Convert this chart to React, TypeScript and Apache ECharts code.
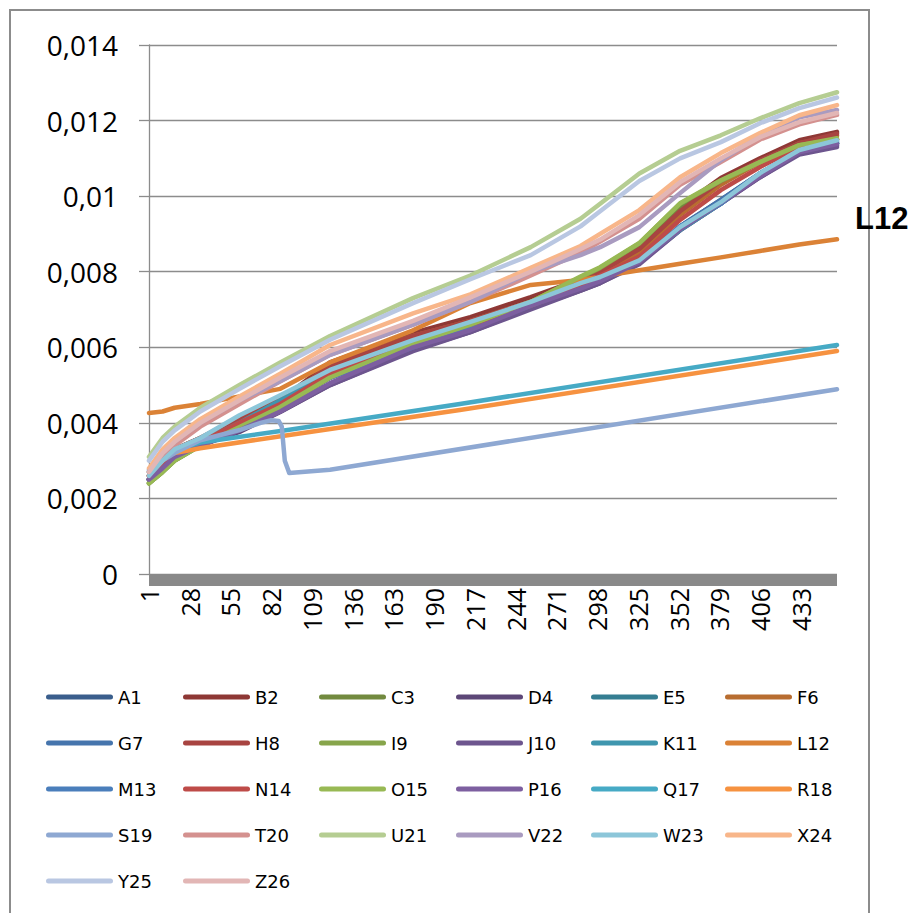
import React, { useEffect, useRef } from "react";
import * as echarts from "echarts";

// ---------- data ----------
const CATEGORIES: string[] = Array.from({ length: 457 }, (_, i) => String(i + 1));
const SAMPLE_CATS = [1, 10, 18, 35, 61, 88, 121, 176, 214, 254, 287, 300, 326, 353, 380, 406, 432, 457];

const A1 = [0.0025, 0.0029, 0.0032, 0.0035, 0.0039, 0.0044, 0.0052, 0.006, 0.0065, 0.0071, 0.0076, 0.0078, 0.0083, 0.0092, 0.0099, 0.0106, 0.0112, 0.0114];
const B2 = [0.0026, 0.003, 0.0033, 0.0036, 0.00415, 0.0046, 0.0056, 0.00638, 0.0068, 0.00733, 0.0078, 0.00804, 0.00862, 0.00971, 0.01048, 0.011, 0.01148, 0.0117];
const C3 = [0.0024, 0.0027, 0.003, 0.0034, 0.0039, 0.0044, 0.0052, 0.0061, 0.0066, 0.0072, 0.0078, 0.0081, 0.0087, 0.0097, 0.0104, 0.0109, 0.0113, 0.0115];
const D4 = [0.0025, 0.0028, 0.0031, 0.0034, 0.00376, 0.00429, 0.005, 0.00593, 0.0064, 0.00704, 0.0075, 0.0077, 0.00823, 0.0091, 0.00981, 0.0105, 0.01114, 0.01135];
const E5 = [0.0025, 0.0029, 0.0032, 0.0035, 0.004, 0.0045, 0.0053, 0.0061, 0.0066, 0.0071, 0.0076, 0.0078, 0.0083, 0.0092, 0.0098, 0.0106, 0.0112, 0.0114];
const F6 = [0.0026, 0.003, 0.0033, 0.0036, 0.0041, 0.0046, 0.0055, 0.0063, 0.0067, 0.0072, 0.0077, 0.008, 0.0085, 0.0095, 0.0103, 0.0109, 0.0114, 0.0116];
const G7 = [0.0025, 0.0029, 0.0032, 0.0035, 0.0039, 0.0044, 0.0052, 0.006, 0.0065, 0.0071, 0.0076, 0.0078, 0.0083, 0.0092, 0.0099, 0.0106, 0.0112, 0.01145];
const H8 = [0.0026, 0.003, 0.0033, 0.0036, 0.0041, 0.0046, 0.0055, 0.0063, 0.0067, 0.0072, 0.0077, 0.008, 0.0086, 0.0096, 0.0104, 0.01095, 0.0114, 0.01165];
const I9 = [0.0024, 0.0027, 0.003, 0.0034, 0.0039, 0.0044, 0.0052, 0.0061, 0.0066, 0.0072, 0.00785, 0.0081, 0.00875, 0.0098, 0.0104, 0.0109, 0.01135, 0.0115];
const J10 = [0.0025, 0.0028, 0.0031, 0.0034, 0.0038, 0.0043, 0.005, 0.0059, 0.0064, 0.007, 0.0075, 0.0077, 0.0082, 0.0091, 0.0098, 0.0105, 0.0111, 0.0113];
const K11 = [0.0025, 0.0029, 0.0032, 0.0035, 0.004, 0.0046, 0.0053, 0.0061, 0.0066, 0.0071, 0.0076, 0.0078, 0.0083, 0.0091, 0.0098, 0.0106, 0.0112, 0.0114];
const L12 = [0.00426, 0.0043, 0.0044, 0.0045, 0.0047, 0.0049, 0.0056, 0.00645, 0.00717, 0.00765, 0.00778, 0.00787, 0.00804, 0.00821, 0.00838, 0.00855, 0.00872, 0.00886];
const M13 = [0.0025, 0.0029, 0.0032, 0.0035, 0.0039, 0.0045, 0.0052, 0.006, 0.0065, 0.0071, 0.0076, 0.0078, 0.0083, 0.0092, 0.0098, 0.0106, 0.0112, 0.0114];
const N14 = [0.0025, 0.0029, 0.0032, 0.0035, 0.004, 0.0045, 0.0053, 0.0062, 0.0066, 0.0071, 0.0076, 0.0079, 0.0084, 0.00937, 0.01016, 0.01077, 0.0113, 0.0115];
const O15 = [0.0024, 0.0027, 0.003, 0.0034, 0.00389, 0.00442, 0.0052, 0.0061, 0.0066, 0.0072, 0.00787, 0.00812, 0.00876, 0.00981, 0.01042, 0.0109, 0.01135, 0.01153];
const P16 = [0.0025, 0.0028, 0.0031, 0.0034, 0.0038, 0.0043, 0.00505, 0.006, 0.00645, 0.0071, 0.00755, 0.00775, 0.00826, 0.00912, 0.00983, 0.01052, 0.01116, 0.01138];

const Q17_CATS = [1, 10, 20, 35, 94, 207, 457];
const Q17 = [0.0027, 0.0031, 0.0033, 0.00348, 0.00382, 0.0045, 0.00606];
const R18_CATS = [1, 10, 18, 35, 94, 207, 457];
const R18 = [0.0027, 0.0031, 0.0032, 0.00333, 0.00368, 0.00434, 0.0059];
const S19_CATS = [1, 10, 18, 35, 61, 75, 82, 87, 89, 91, 94, 121, 457];
const S19 = [0.00275, 0.003, 0.0032, 0.00354, 0.00381, 0.004, 0.00407, 0.00405, 0.0039, 0.003, 0.00267, 0.00276, 0.00489];

const T20 = [0.0026, 0.0031, 0.0034, 0.0039, 0.0045, 0.0051, 0.0058, 0.0066, 0.0072, 0.0079, 0.0085, 0.0088, 0.0094, 0.0103, 0.0109, 0.0115, 0.0119, 0.01215];
const U21 = [0.0031, 0.0036, 0.0039, 0.0044, 0.005, 0.0056, 0.0063, 0.0073, 0.0079, 0.00865, 0.0094, 0.0098, 0.0106, 0.0112, 0.01161, 0.01206, 0.01246, 0.01275];
const V22 = [0.0027, 0.0032, 0.0035, 0.004, 0.0046, 0.0051, 0.0058, 0.0066, 0.0072, 0.008, 0.00844, 0.00865, 0.00918, 0.01008, 0.01095, 0.01161, 0.01209, 0.01228];
const W23 = [0.0026, 0.003, 0.0033, 0.0036, 0.0042, 0.00473, 0.0054, 0.00619, 0.00667, 0.0072, 0.0077, 0.00786, 0.0083, 0.00918, 0.00984, 0.01061, 0.01122, 0.01148];
const X24 = [0.0028, 0.0033, 0.0036, 0.0041, 0.0047, 0.0053, 0.00606, 0.0069, 0.0074, 0.0081, 0.00868, 0.009, 0.00963, 0.0105, 0.01114, 0.01167, 0.01214, 0.01241];
const Y25 = [0.003, 0.0035, 0.0038, 0.0043, 0.0049, 0.0055, 0.0062, 0.00717, 0.0078, 0.00844, 0.0092, 0.0096, 0.0104, 0.011, 0.01143, 0.01193, 0.01233, 0.01261];
const Z26 = [0.0027, 0.0032, 0.0035, 0.004, 0.0046, 0.0052, 0.0059, 0.0067, 0.00732, 0.008, 0.0086, 0.00885, 0.0095, 0.01037, 0.011, 0.01156, 0.01196, 0.0122];

const Y_TICKS_MAX = 0.014;
const Y_INTERVAL = 0.002;

const SERIES_DEFS: { name: string; color: string; cats: number[]; values: number[] }[] = [
  { name: "A1", color: "#3A5E8C", cats: SAMPLE_CATS, values: A1 },
  { name: "B2", color: "#8E3835", cats: SAMPLE_CATS, values: B2 },
  { name: "C3", color: "#728A3F", cats: SAMPLE_CATS, values: C3 },
  { name: "D4", color: "#5D4777", cats: SAMPLE_CATS, values: D4 },
  { name: "E5", color: "#357E92", cats: SAMPLE_CATS, values: E5 },
  { name: "F6", color: "#B86D30", cats: SAMPLE_CATS, values: F6 },
  { name: "G7", color: "#4675AD", cats: SAMPLE_CATS, values: G7 },
  { name: "H8", color: "#A84441", cats: SAMPLE_CATS, values: H8 },
  { name: "I9", color: "#87A54B", cats: SAMPLE_CATS, values: I9 },
  { name: "J10", color: "#6D558E", cats: SAMPLE_CATS, values: J10 },
  { name: "K11", color: "#3F96AE", cats: SAMPLE_CATS, values: K11 },
  { name: "L12", color: "#DB8236", cats: SAMPLE_CATS, values: L12 },
  { name: "M13", color: "#4A7EBB", cats: SAMPLE_CATS, values: M13 },
  { name: "N14", color: "#BE4B48", cats: SAMPLE_CATS, values: N14 },
  { name: "O15", color: "#98B954", cats: SAMPLE_CATS, values: O15 },
  { name: "P16", color: "#7D5FA0", cats: SAMPLE_CATS, values: P16 },
  { name: "Q17", color: "#46AAC5", cats: Q17_CATS, values: Q17 },
  { name: "R18", color: "#F69240", cats: R18_CATS, values: R18 },
  { name: "S19", color: "#8EA8D2", cats: S19_CATS, values: S19 },
  { name: "T20", color: "#D4918F", cats: SAMPLE_CATS, values: T20 },
  { name: "U21", color: "#B5CD92", cats: SAMPLE_CATS, values: U21 },
  { name: "V22", color: "#A99BC0", cats: SAMPLE_CATS, values: V22 },
  { name: "W23", color: "#8CC6D9", cats: SAMPLE_CATS, values: W23 },
  { name: "X24", color: "#F8B68A", cats: SAMPLE_CATS, values: X24 },
  { name: "Y25", color: "#B9C7E2", cats: SAMPLE_CATS, values: Y25 },
  { name: "Z26", color: "#E2B6B5", cats: SAMPLE_CATS, values: Z26 },
];

const LEGEND_COL_X = [46, 183, 319, 456, 591, 725];
const CAPSULE = "path://M2.5,0 L64.5,0 A2.5,2.5 0 0 1 64.5,5 L2.5,5 A2.5,2.5 0 0 1 2.5,0 Z";

export default function App() {
  const ref = useRef<HTMLDivElement>(null);

  useEffect(() => {
    if (!ref.current) return;
    const chart = echarts.init(ref.current, null, { renderer: "svg" });

    const series = SERIES_DEFS.map((s) => ({
      name: s.name,
      type: "line",
      symbol: "none",
      showSymbol: false,
      color: s.color,
      lineStyle: { width: 4.5, color: s.color, cap: "round", join: "round" },
      emphasis: { disabled: true },
      data: s.cats.map((c, i) => [String(c), s.values[i]]),
      z: 2,
    }));

    const legends = LEGEND_COL_X.map((x, col) => ({
      orient: "vertical",
      left: x,
      top: 687,
      padding: 0,
      itemGap: 26,
      itemWidth: 67,
      itemHeight: 5,
      icon: CAPSULE,
      selectedMode: false,
      data: SERIES_DEFS.filter((_, i) => i % 6 === col).map((s) => s.name),
      textStyle: { fontFamily: "DejaVu Sans", fontSize: 18, color: "#000", lineHeight: 20 },
    }));

    chart.setOption({
      animation: false,
      backgroundColor: "#ffffff",
      grid: { left: 149, top: 45, width: 688, height: 529, containLabel: false },
      xAxis: {
        type: "category",
        data: CATEGORIES,
        boundaryGap: false,
        offset: 6,
        axisLine: { show: true, onZero: false, lineStyle: { color: "#898989", width: 12, cap: "butt" } },
        axisTick: { show: false },
        splitLine: { show: false },
        axisLabel: {
          interval: 26,
          rotate: 90,
          margin: 8,
          fontFamily: "Open Sans",
          fontSize: 25,
          color: "#000",
        },
      },
      yAxis: {
        type: "value",
        min: 0,
        max: Y_TICKS_MAX,
        interval: Y_INTERVAL,
        axisLine: { show: true, lineStyle: { color: "#8c8c8c", width: 1.3 } },
        axisTick: { show: true, length: 10, lineStyle: { color: "#8c8c8c", width: 1.3 } },
        splitLine: { show: true, lineStyle: { color: "#8c8c8c", width: 1.3 } },
        axisLabel: {
          margin: 31,
          fontFamily: "Open Sans",
          fontSize: 28,
          color: "#000",
          formatter: (v: number) => (v === 0 ? "0" : String(parseFloat(v.toFixed(3))).replace(".", ",")),
        },
      },
      legend: legends,
      graphic: {
        elements: [
          {
            type: "rect",
            shape: { x: 10, y: 10, width: 859, height: 1000 },
            style: { fill: "none", stroke: "#8c8c8c", lineWidth: 2 },
            silent: true,
            z: 0,
          },
          {
            type: "text",
            x: 855,
            y: 203,
            style: {
              text: "L12",
              font: 'bold 31px "Liberation Sans", Arial, sans-serif',
              fill: "#000",
              verticalAlign: "top",
            },
            silent: true,
            z: 10,
          },
        ],
      },
      series,
    });

    return () => chart.dispose();
  }, []);

  return (
    <div
      ref={ref}
      style={{ position: "fixed", left: 0, top: 0, width: 911, height: 913, background: "#fff" }}
    />
  );
}
